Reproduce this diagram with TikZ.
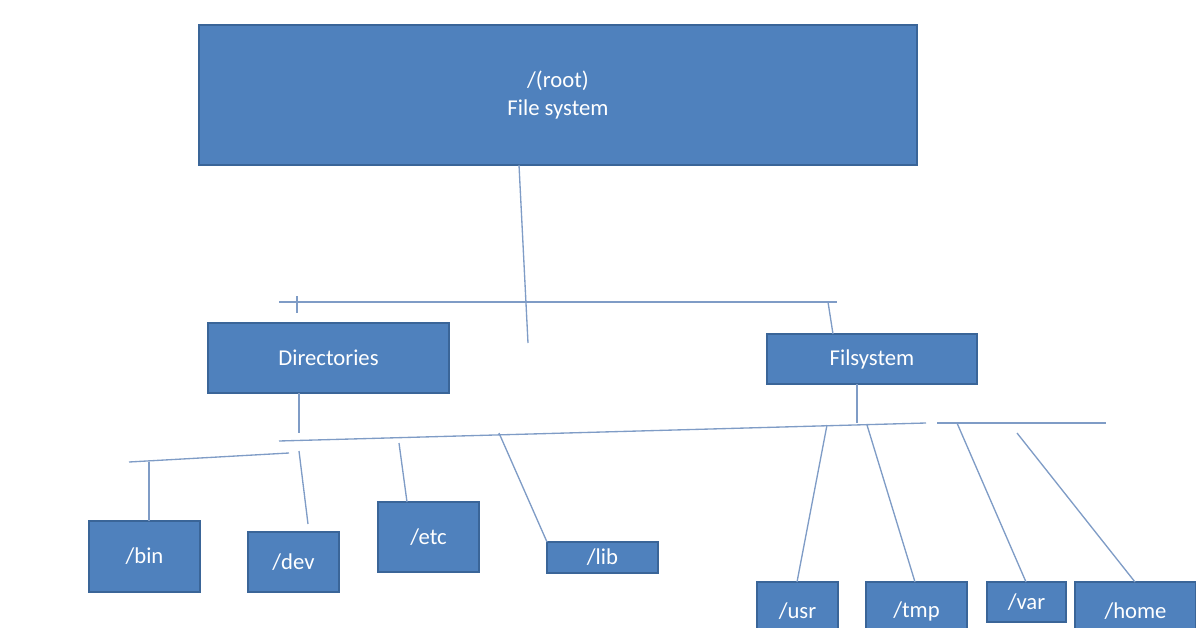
\documentclass[tikz,border=0pt]{standalone}
\usepackage{fontspec}
\setmainfont{Carlito}
\definecolor{boxfill}{HTML}{4F81BD}
\definecolor{boxedge}{HTML}{3A6598}
\definecolor{ln}{HTML}{7F9CC6}
\begin{document}
\begin{tikzpicture}[x=0.75pt,y=-0.75pt,
  box/.style={draw=boxedge,line width=1.2pt,fill=boxfill,text=white,inner sep=0pt,font=\fontsize{17}{21}\selectfont,align=center},
  con/.style={draw=ln,line width=1pt}]
\useasboundingbox (0,0) rectangle (1196,628);
\newcommand\bx[6]{\node[box,minimum width=#4*0.75pt-#2*0.75pt,minimum height=#5*0.75pt-#3*0.75pt] (#1) at ({(#2+#4)/2},{(#3+#5)/2}) {#6};}
\bx{root}{199}{25}{917}{165}{/(root)\\File system}
\bx{dirs}{208}{323}{449}{393}{Directories}
\bx{fs}{767}{334}{977}{384}{Filsystem}
\bx{bin}{89}{521}{200}{592}{/bin}
\bx{dev}{248}{532}{339}{592}{/dev}
\bx{etc}{378}{502}{479}{572}{/etc}
\bx{lib}{547}{542}{658}{573}{/lib}
\bx{usr}{757}{582}{838}{640}{/usr}
\bx{tmp}{866}{582}{967}{640}{/tmp}
\bx{var}{987}{582}{1066}{622}{/var}
\bx{home}{1075}{582}{1196}{640}{/home}
\coordinate (r1) at (519,165); \coordinate (r2) at (528,343);
\coordinate (h1) at (279,302); \coordinate (h2) at (828,302);
\coordinate (t1) at (297,296); \coordinate (t2) at (297,313);
\coordinate (f1) at (833,334);
\coordinate (d1) at (299,393); \coordinate (d2) at (299,433);
\coordinate (l1) at (279,441); \coordinate (l2) at (926,423);
\coordinate (m1) at (937,423); \coordinate (m2) at (1106,423);
\coordinate (b1) at (129,462); \coordinate (b2) at (289,453);
\coordinate (b3) at (149,462); \coordinate (b4) at (149,521);
\coordinate (v1) at (299,451); \coordinate (v2) at (308,524);
\coordinate (e1) at (399,443); \coordinate (e2) at (407,502);
\coordinate (i1) at (499,433); \coordinate (i2) at (547,542);
\coordinate (s1) at (857,384); \coordinate (s2) at (857,423);
\coordinate (u1) at (827,425); \coordinate (u2) at (797,582);
\coordinate (p1) at (867,425); \coordinate (p2) at (915,582);
\coordinate (a1) at (957,423); \coordinate (a2) at (1026,582);
\coordinate (o1) at (1017,433); \coordinate (o2) at (1135,582);
\draw[con] (r1)--(r2);
\draw[con] (h1)--(837,302);
\draw[con] (t1)--(t2);
\draw[con] (h2)--(f1);
\draw[con] (d1)--(d2);
\draw[con] (l1)--(l2);
\draw[con] (m1)--(m2);
\draw[con] (b1)--(b2);
\draw[con] (b3)--(b4);
\draw[con] (v1)--(v2);
\draw[con] (e1)--(e2);
\draw[con] (i1)--(i2);
\draw[con] (s1)--(s2);
\draw[con] (u1)--(u2);
\draw[con] (p1)--(p2);
\draw[con] (a1)--(a2);
\draw[con] (o1)--(o2);
\end{tikzpicture}
\end{document}
